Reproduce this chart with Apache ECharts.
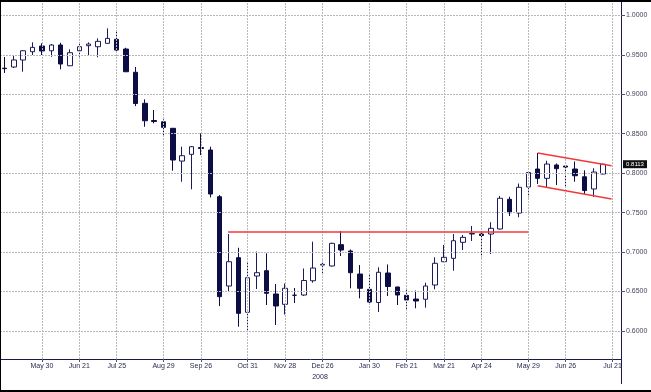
<!DOCTYPE html>
<html><head><meta charset="utf-8">
<script src="https://cdn.jsdelivr.net/npm/echarts@6/dist/echarts.min.js"></script>
<style>
html,body{margin:0;padding:0;background:#fff}
#wrap{position:relative;width:651px;height:392px}
#c{width:651px;height:392px}
#frame{position:absolute;left:0;top:0;width:651px;height:392px;box-sizing:border-box;border-top:2px solid #000;border-left:1px solid #000;border-bottom:2px solid #000;pointer-events:none}
</style></head><body>
<div id="wrap"><div id="c"></div><div id="frame"></div></div>
<script>
// Weekly OHLC (one candle per week)
const opens  = [0.9330,0.9345,0.9434,0.9539,0.9611,0.9551,0.9624,0.9361,0.9551,0.9615,0.9602,0.9645,0.9696,0.9573,0.9278,0.8885,0.8667,0.8651,0.8568,0.8153,0.8238,0.8324,0.8293,0.7701,0.6569,0.6928,0.6236,0.6696,0.6763,0.6468,0.6337,0.6452,0.6455,0.6636,0.6835,0.6823,0.7093,0.7013,0.6721,0.6527,0.6360,0.6734,0.6557,0.6451,0.6404,0.6401,0.6582,0.6877,0.6920,0.7123,0.7228,0.7228,0.7228,0.7292,0.7668,0.7494,0.7824,0.8052,0.7934,0.8103,0.8090,0.8052,0.7954,0.7799,0.7989];
const closes = [0.9324,0.9434,0.9551,0.9594,0.9548,0.9624,0.9383,0.9526,0.9602,0.9636,0.9670,0.9708,0.9560,0.9285,0.8882,0.8664,0.8654,0.8580,0.8166,0.8221,0.8335,0.8312,0.7735,0.6434,0.6877,0.6223,0.6674,0.6738,0.6477,0.6316,0.6540,0.6452,0.6639,0.6797,0.6844,0.7110,0.7025,0.6738,0.6540,0.6366,0.6743,0.6563,0.6455,0.6392,0.6379,0.6569,0.6857,0.6933,0.7143,0.7186,0.7235,0.7209,0.7300,0.7681,0.7498,0.7820,0.8008,0.7934,0.8115,0.8056,0.8077,0.7967,0.7779,0.8014,0.8113];
const lows   = [0.9269,0.9332,0.9285,0.9497,0.9497,0.9475,0.9316,0.9357,0.9475,0.9497,0.9468,0.9640,0.9526,0.9281,0.8850,0.8588,0.8631,0.8483,0.8031,0.7891,0.7795,0.8229,0.7693,0.6316,0.6497,0.6053,0.6003,0.6531,0.6328,0.6075,0.6208,0.6354,0.6442,0.6611,0.6734,0.6816,0.6949,0.6540,0.6413,0.6341,0.6240,0.6442,0.6328,0.6278,0.6287,0.6294,0.6527,0.6873,0.6763,0.7025,0.7139,0.6933,0.6975,0.7285,0.7456,0.7440,0.7693,0.7862,0.7824,0.7849,0.7824,0.7891,0.7735,0.7701,0.7985];
const highs  = [0.9472,0.9491,0.9560,0.9658,0.9645,0.9636,0.9653,0.9569,0.9645,0.9658,0.9708,0.9835,0.9792,0.9589,0.9345,0.8935,0.8800,0.8682,0.8572,0.8335,0.8343,0.8504,0.8335,0.7722,0.7228,0.7054,0.6886,0.7006,0.6984,0.6594,0.6601,0.6544,0.6791,0.7131,0.6890,0.7118,0.7266,0.7032,0.6835,0.6721,0.6806,0.6842,0.6560,0.6544,0.6512,0.6611,0.6933,0.7089,0.7228,0.7216,0.7330,0.7241,0.7377,0.7710,0.7701,0.7868,0.8027,0.8255,0.8157,0.8122,0.8094,0.8147,0.8036,0.8061,0.8118];

// Date labels and the week (candle) index they sit on
const xLabelIdx  = [4,8,12,17,21,26,30,34,39,43,47,51,56,60,65];
const xLabelText = ['May 30','Jun 21','Jul 25','Aug 29','Sep 26','Oct 31','Nov 28','Dec 26','Jan 30','Feb 21','Mar 21','Apr 24','May 29','Jun 26','Jul 21'];
const yTicks = [0.60,0.65,0.70,0.75,0.80,0.85,0.90,0.95,1.00];
const lastPriceTag = '0.8113';

// Trend lines [startIdx, startPrice, endIdx, endPrice]
const resistanceLine = [23.9, 0.7257, 56.0, 0.7257];
const channelUpper   = [57.0, 0.8256, 64.9, 0.8094];
const channelLower   = [57.0, 0.7840, 64.9, 0.7672];

const candleData = opens.map((o,i)=>[i,o,closes[i],lows[i],highs[i]]);
const FONT = "'Liberation Sans Narrow','Liberation Sans',Arial,sans-serif";
const NAVY = '#0d0d45';
const X_MIN = -0.481, X_MAX = 65.91;

const chart = echarts.init(document.getElementById('c'), null, {renderer:'canvas'});
const gridStyle = {color:'#b8b8b8', type:[2,1], width:1};
const tl = a => [{coord:[a[0],a[1]]},{coord:[a[2],a[3]]}];

chart.setOption({
  animation:false,
  backgroundColor:'#fff',
  grid:{left:0, right:30, top:2, bottom:33, containLabel:false},
  xAxis:{type:'value', min:X_MIN, max:X_MAX,
    axisLine:{show:true, onZero:false, lineStyle:{color:'#1a1a50', width:1}},
    splitLine:{show:false},
    axisTick:{show:true, customValues:xLabelIdx, length:3, lineStyle:{color:'#555'}},
    axisLabel:{show:true, customValues:xLabelIdx, margin:4, fontSize:7, fontFamily:FONT, color:'#2a2a50',
      formatter:v=>{const k=xLabelIdx.indexOf(Math.round(v)); return k>=0?xLabelText[k]:'';}}
  },
  yAxis:{type:'value', position:'right', min:0.5644, max:1.0169, scale:true,
    axisLine:{show:true, onZero:false, lineStyle:{color:'#1a1a50', width:1}},
    splitLine:{show:false},
    axisTick:{show:true, customValues:yTicks, length:4, lineStyle:{color:'#555'}},
    axisLabel:{show:true, customValues:yTicks, margin:5, fontSize:7, fontFamily:FONT, color:'#444460',
      formatter:v=>v.toFixed(4)}
  },
  graphic:[
    {type:'line', shape:{x1:621.5,y1:359,x2:621.5,y2:384}, style:{stroke:'#1a1a50', lineWidth:1}, z:10},
    {type:'text', x:320, y:377, style:{text:'2008', fontSize:7, fontFamily:FONT, fill:'#2a2a50', textAlign:'center', textVerticalAlign:'middle'}}
  ],
  series:[
    {type:'line', data:[], z:1, clip:false, silent:true,
      markLine:{silent:true, symbol:'none', label:{show:false}, lineStyle:gridStyle, animation:false,
        data:[...yTicks.map(v=>({yAxis:v})), ...xLabelIdx.map(v=>({xAxis:v}))]},
      markPoint:{silent:true, symbol:'rect', symbolSize:[24,8], symbolOffset:[14,0], itemStyle:{color:'#111'},
        label:{show:true, position:'inside', color:'#fff', fontSize:6, fontFamily:FONT, formatter:lastPriceTag},
        data:[{coord:[X_MAX, closes[closes.length-1]]}]}
    },
    {type:'candlestick', z:3, barWidth:5,
      dimensions:['idx','open','close','lowest','highest'],
      encode:{x:'idx', y:['open','close','lowest','highest']},
      data:candleData,
      itemStyle:{color:'#ffffff', color0:NAVY, borderColor:'#1c1c5c', borderColor0:NAVY, borderWidth:1},
      markLine:{silent:true, symbol:'none', label:{show:false}, animation:false,
        lineStyle:{color:'#f03a3a', width:1.5, type:'solid'},
        data:[tl(resistanceLine), tl(channelUpper), tl(channelLower)]}
    }
  ]
});
</script>
</body></html>
